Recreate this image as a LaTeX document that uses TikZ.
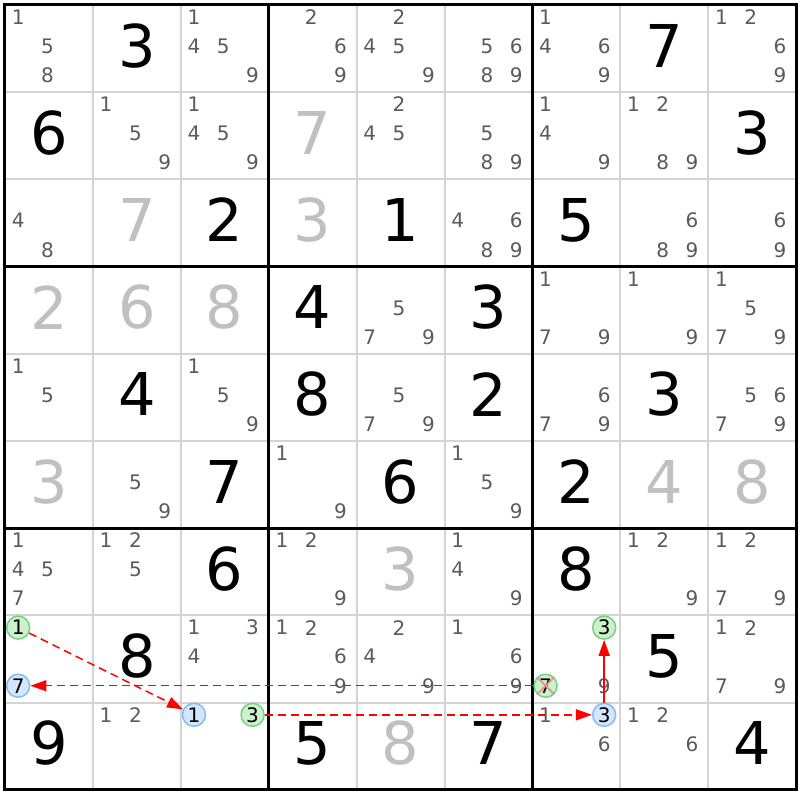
\documentclass[tikz,border=0pt]{standalone}
\usepackage{fontspec}
\setmainfont{DejaVu Sans}
\usetikzlibrary{arrows.meta}
\definecolor{candgray}{RGB}{90,90,90}
\definecolor{solvedgray}{RGB}{192,192,192}
\definecolor{gridgray}{RGB}{212,212,212}
\definecolor{onfill}{RGB}{204,240,204}
\definecolor{online}{RGB}{120,208,130}
\definecolor{offfill}{RGB}{212,230,255}
\definecolor{offline}{RGB}{130,188,240}
\definecolor{crossred}{RGB}{240,140,140}
\definecolor{linkred}{RGB}{255,0,0}
\begin{document}
\begin{tikzpicture}[
    x=87.9pt, y=-87.2pt,
    given/.style={inner sep=0pt, font=\fontsize{59}{60}\selectfont},
    solved/.style={given, text=solvedgray},
    cand/.style={inner sep=0pt, text=candgray, font=\fontsize{20}{22}\selectfont},
    oncand/.style={circle, draw=online, fill=onfill, line width=1.5pt, minimum size=23pt, inner sep=0pt, font=\fontsize{20}{22}\selectfont},
    offcand/.style={oncand, draw=offline, fill=offfill},
    link/.style={draw=linkred, line width=1.5pt, -{Triangle[length=16pt,width=11pt]}},
    weak/.style={link, dash pattern=on 8pt off 5pt},
    cross/.style={crossred, line width=1.8pt}
  ]
  \useasboundingbox (-5pt,5pt) rectangle (795pt,-795pt);

  \foreach \i in {1,...,8} {
    \draw[gridgray, line width=2pt] (\i,0) -- (\i,9);
    \draw[gridgray, line width=2pt] (0,\i) -- (9,\i);
  }
  \foreach \i in {3,6} {
    \draw[line width=3pt] (\i,0) -- (\i,9);
    \draw[line width=3pt] (0,\i) -- (9,\i);
  }
  \draw[line width=3pt] (0,0) rectangle (9,9);

  \foreach \c/\r/\d in {1/0/3, 7/0/7, 0/1/6, 8/1/3, 2/2/2, 4/2/1, 6/2/5, 3/3/4, 5/3/3, 1/4/4, 3/4/8, 5/4/2,
      7/4/3, 2/5/7, 4/5/6, 6/5/2, 2/6/6, 6/6/8, 1/7/8, 7/7/5, 0/8/9, 3/8/5, 5/8/7, 8/8/4}
    \node[given] (v\c\r) at (\c+.5,\r+.465) {\d};
  \foreach \c/\r/\d in {3/1/7, 1/2/7, 3/2/3, 0/3/2, 1/3/6, 2/3/8, 0/5/3, 7/5/4, 8/5/8, 4/6/3, 4/8/8}
    \node[solved] (s\c\r) at (\c+.5,\r+.465) {\d};

  \foreach \c/\r/\ds in {0/0/{1,5,8}, 2/0/{1,4,5,9}, 3/0/{2,6,9}, 4/0/{2,4,5,9}, 5/0/{5,6,8,9}, 6/0/{1,4,6,9},
      8/0/{1,2,6,9}, 1/1/{1,5,9}, 2/1/{1,4,5,9}, 4/1/{2,4,5}, 5/1/{5,8,9}, 6/1/{1,4,9}, 7/1/{1,2,8,9},
      0/2/{4,8}, 5/2/{4,6,8,9}, 7/2/{6,8,9}, 8/2/{6,9}, 4/3/{5,7,9}, 6/3/{1,7,9}, 7/3/{1,9}, 8/3/{1,5,7,9},
      0/4/{1,5}, 2/4/{1,5,9}, 4/4/{5,7,9}, 6/4/{6,7,9}, 8/4/{5,6,7,9}, 1/5/{5,9}, 3/5/{1,9}, 5/5/{1,5,9},
      0/6/{1,4,5,7}, 1/6/{1,2,5}, 3/6/{1,2,9}, 5/6/{1,4,9}, 7/6/{1,2,9}, 8/6/{1,2,7,9}, 2/7/{1,3,4},
      3/7/{1,2,6,9}, 4/7/{2,4,9}, 5/7/{1,6,9}, 6/7/{9}, 8/7/{1,2,7,9}, 1/8/{1,2}, 6/8/{1,6}, 7/8/{1,2,6}}
    \foreach \d in \ds {
      \pgfmathsetmacro\px{\c+(mod(\d-1,3)+.45)/3}
      \pgfmathsetmacro\py{\r+(int((\d-1)/3)+.42)/3}
      \node[cand] (k\c\r\d) at (\px,\py) {\d};
    }

  \node[oncand] (on1) at ({.45/3},{7+.42/3}) {1};
  \node[offcand] (off7) at ({.45/3},{7+2.42/3}) {7};
  \node[offcand] (off1) at ({2+.45/3},{8+.42/3}) {1};
  \node[oncand] (on3) at ({2+2.45/3},{8+.42/3}) {3};
  \node[oncand] (top3) at ({6+2.45/3},{7+.42/3}) {3};
  \node[oncand] (on7) at ({6+.45/3},{7+2.42/3}) {7};
  \node[offcand] (off3) at ({6+2.45/3},{8+.42/3}) {3};
  \draw[cross] (on7.north west) -- (on7.south east) (on7.north east) -- (on7.south west);

  \draw[weak] (on1) -- (off1);
  \draw[weak] (on7) -- (off7);
  \draw[weak] (on3) -- (off3);
  \draw[link] (off3) -- (top3);
\end{tikzpicture}
\end{document}
